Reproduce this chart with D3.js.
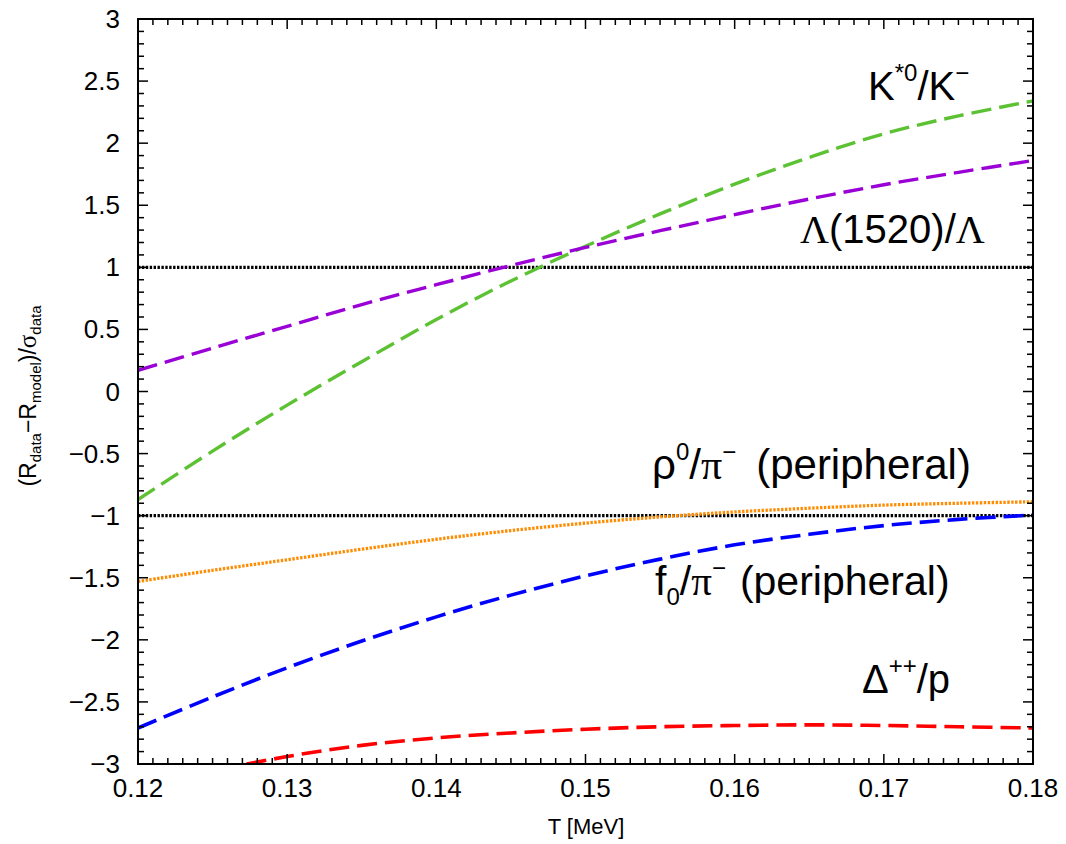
<!DOCTYPE html>
<html><head><meta charset="utf-8">
<script src="https://cdn.jsdelivr.net/npm/d3@7"></script>
<style>body{margin:0;background:#fff}svg{display:block}text{font-family:"Liberation Sans",Arial,sans-serif;fill:#000}</style>
</head><body><svg id="c" width="1066" height="844"></svg>
<script>
const T = [0.12,0.125,0.13,0.135,0.14,0.145,0.15,0.155,0.16,0.165,0.17,0.175,0.18];
const kstar = [-0.87,-0.48,-0.11,0.24,0.58,0.89,1.17,1.43,1.67,1.885,2.075,2.22,2.34];
const lambda1520 = [0.17,0.35,0.525,0.70,0.86,1.015,1.16,1.295,1.425,1.55,1.665,1.765,1.86];
const rho = [-1.53,-1.44,-1.355,-1.27,-1.19,-1.12,-1.06,-1.01,-0.97,-0.94,-0.915,-0.90,-0.888];
const f0 = [-2.71,-2.46,-2.225,-2.01,-1.815,-1.64,-1.485,-1.35,-1.235,-1.15,-1.08,-1.03,-0.995];
const delta = [-3.22,-3.06,-2.94,-2.85,-2.79,-2.75,-2.72,-2.70,-2.69,-2.685,-2.69,-2.70,-2.71];
const refLines = [1,-1];
const xTicks = [0.12,0.13,0.14,0.15,0.16,0.17,0.18];
const yTicks = [3,2.5,2,1.5,1,0.5,0,-0.5,-1,-1.5,-2,-2.5,-3];

const svg = d3.select("#c");
const L=138,R=1033,Tp=19,B=764;
const x = d3.scaleLinear().domain([0.12,0.18]).range([L,R]);
const y = d3.scaleLinear().domain([-3,3]).range([B,Tp]);
const fmt = v => (v<0?"\u2212":"")+d3.format("")(Math.abs(v));

svg.append("defs").append("clipPath").attr("id","cp").append("rect")
  .attr("x",L).attr("y",Tp).attr("width",R-L).attr("height",B-Tp);

const g = svg.append("g").attr("clip-path","url(#cp)");
refLines.forEach(v=>{
  g.append("line").attr("x1",L).attr("x2",R).attr("y1",y(v)).attr("y2",y(v))
   .attr("stroke","#000").attr("stroke-width",3.4).attr("stroke-dasharray","2.4,1.5");
});
const line = d3.line().x((d,i)=>x(T[i])).y(d=>y(d)).curve(d3.curveCatmullRom.alpha(0.5));
const series = [
  {v:kstar,c:"#5cc233",dash:"20,8",w:3.4},
  {v:lambda1520,c:"#9a00d6",dash:"20,8",w:3.4},
  {v:rho,c:"#ff8c00",dash:"2.4,1.5",w:3.3},
  {v:f0,c:"#0000ff",dash:"20,8",w:3.6},
  {v:delta,c:"#ff0000",dash:"20,8",w:3.6}
];
series.forEach(s=>{
  g.append("path").attr("d",line(s.v)).attr("fill","none").attr("stroke",s.c)
   .attr("stroke-width",s.w).attr("stroke-dasharray",s.dash);
});

svg.append("rect").attr("x",L).attr("y",Tp).attr("width",R-L).attr("height",B-Tp)
  .attr("fill","none").attr("stroke","#000").attr("stroke-width",2);

const ax = svg.append("g").attr("stroke","#000").attr("stroke-width",1.5);
d3.range(0,61).forEach(i=>{
  const t = 0.12+i*0.001, px=x(t), len = (i%10===0)?10:6;
  ax.append("line").attr("x1",px).attr("x2",px).attr("y1",B).attr("y2",B-len);
  ax.append("line").attr("x1",px).attr("x2",px).attr("y1",Tp).attr("y2",Tp+len);
});
d3.range(0,61).forEach(i=>{
  const v=-3+i*0.1, py=y(v), len=(i%5===0)?10:6;
  ax.append("line").attr("x1",L).attr("x2",L+len).attr("y1",py).attr("y2",py);
  ax.append("line").attr("x1",R).attr("x2",R-len).attr("y1",py).attr("y2",py);
});

svg.append("g").selectAll("text").data(xTicks).join("text")
  .attr("x",d=>x(d)).attr("y",797).attr("text-anchor","middle").attr("font-size",26)
  .text(d=>d.toFixed(2));
svg.append("g").selectAll("text").data(yTicks).join("text")
  .attr("x",120).attr("y",d=>y(d)+9).attr("text-anchor","end").attr("font-size",26)
  .text(fmt);

svg.append("text").attr("x",586).attr("y",834).attr("text-anchor","middle").attr("font-size",22).text("T [MeV]");
const yt = svg.append("text").attr("transform","translate(36,396) rotate(-90)").attr("text-anchor","middle").attr("font-size",23);
yt.append("tspan").text("(R");
yt.append("tspan").attr("font-size",15).attr("dy",5).text("data");
yt.append("tspan").attr("dy",-5).text("\u2212R");
yt.append("tspan").attr("font-size",15).attr("dy",5).text("model");
yt.append("tspan").attr("dy",-5).text(")/");
yt.append("tspan").attr("font-family","Liberation Serif").attr("font-size",25).text("\u03c3");
yt.append("tspan").attr("font-size",15).attr("dy",5).text("data");

const SS=24, serif="Liberation Serif";
function lab(xp,yp,fs,parts){
  const t=svg.append("text").attr("x",xp).attr("y",yp).attr("font-size",fs);
  parts.forEach(p=>{
    const s=t.append("tspan").text(p.t);
    if(p.sup){s.attr("font-size",SS).attr("dy",-19);}
    if(p.sub){s.attr("font-size",SS).attr("dy",10);}
    if(p.back){s.attr("dy",p.back);}
    if(p.dx){s.attr("dx",p.dx);}
    if(p.serif){s.attr("font-family",serif);}
  });
}
lab(868,100,40,[{t:"K"},{t:"*0",sup:1},{t:"/K",back:19},{t:"\u2212",sup:1}]);
lab(800,243,40,[{t:"\u039b",serif:1},{t:"(1520)/"},{t:"\u039b",serif:1}]);
lab(652,479,42,[{t:"\u03c1"},{t:"0",sup:1},{t:"/",back:19},{t:"\u03c0",serif:1},{t:"\u2212",sup:1},{t:"(peripheral)",back:19,dx:20}]);
lab(655,595,41,[{t:"f"},{t:"0",sub:1},{t:"/",back:-10},{t:"\u03c0",serif:1},{t:"\u2212",sup:1},{t:"(peripheral)",back:19,dx:14}]);
lab(862,693,40,[{t:"\u0394"},{t:"++",sup:1},{t:"/p",back:19}]);
</script></body></html>
